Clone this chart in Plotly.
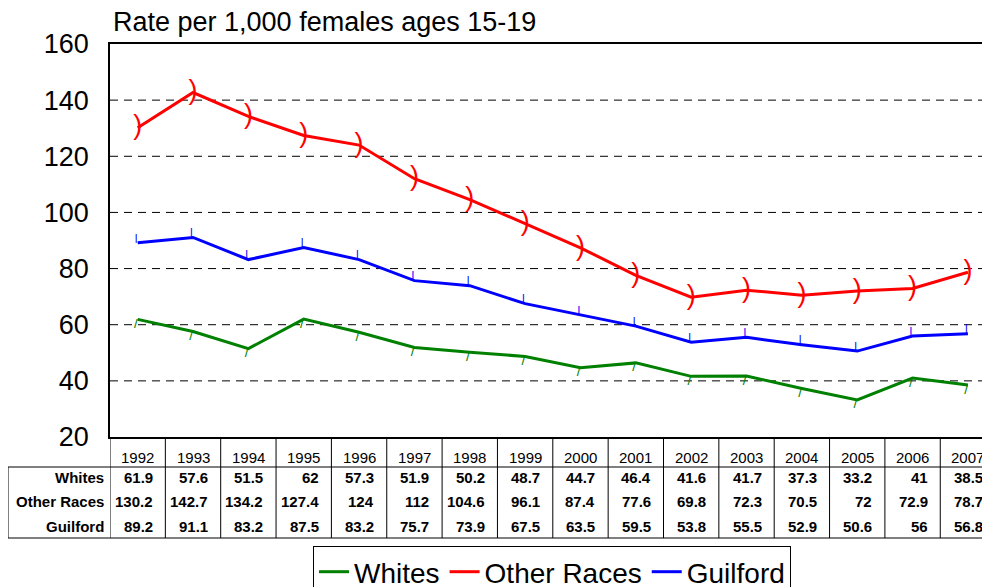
import plotly.graph_objects as go

years = [1992, 1993, 1994, 1995, 1996, 1997, 1998, 1999, 2000, 2001, 2002, 2003, 2004, 2005, 2006, 2007]
whites = [61.9, 57.6, 51.5, 62, 57.3, 51.9, 50.2, 48.7, 44.7, 46.4, 41.6, 41.7, 37.3, 33.2, 41, 38.5]
other_races = [130.2, 142.7, 134.2, 127.4, 124, 112, 104.6, 96.1, 87.4, 77.6, 69.8, 72.3, 70.5, 72, 72.9, 78.7]
guilford = [89.2, 91.1, 83.2, 87.5, 83.2, 75.7, 73.9, 67.5, 63.5, 59.5, 53.8, 55.5, 52.9, 50.6, 56, 56.8]
series_names = ["Whites", "Other Races", "Guilford"]
colors = ["#008000", "#FF0000", "#0000FF"]
gridvals = [40, 60, 80, 100, 120, 140]
title_text = "Rate per 1,000 females ages 15-19"

FONT = "Liberation Sans, Arial, sans-serif"
OFF = 8  # page body margin
W, H = 990, 587
L, R, T = 110 - OFF, OFF, 44 - OFF
PH = 437 - 44
B = H - T - PH
PW = W - L - R
CAT_PX = 55.35  # pixel width of one year column
X_MAX = years[0] - 0.5 + PW / CAT_PX

def py(pix):
    return (T + PH - (pix - OFF)) / PH

def px(pix):
    return (pix - OFF - L) / PW

fig = go.Figure()

data = [whites, other_races, guilford]
for name, vals, col in zip(series_names, data, colors):
    fig.add_trace(go.Scatter(x=years, y=vals, mode="lines", name=name,
                             line=dict(color=col, width=3)))

# marker glyphs
fig.add_trace(go.Scatter(x=years, y=other_races, mode="text", text=[")"] * len(years),
                         textposition="middle center", showlegend=False, hoverinfo="skip",
                         textfont=dict(family=FONT, size=27, color="#FF0000")))
fig.add_trace(go.Scatter(x=years, y=guilford, mode="text", text=["|"] * len(years),
                         textposition="top left", showlegend=False, hoverinfo="skip",
                         textfont=dict(family="DejaVu Sans", size=9, color="#0000FF", weight="bold")))
fig.add_trace(go.Scatter(x=years, y=whites, mode="text", text=["/"] * len(years),
                         textposition="bottom left", showlegend=False, hoverinfo="skip",
                         textfont=dict(family="DejaVu Sans", size=10, color="#008000", weight="bold")))

shapes = []
for g in gridvals:
    shapes.append(dict(type="line", xref="paper", yref="y", x0=0, x1=1, y0=g, y1=g,
                       line=dict(color="black", width=1, dash="8px,6px"), layer="below"))

# table lines
bottom = py(538)
toprow = py(467)
for k in range(len(years)):
    xv = years[0] - 0.5 + k
    shapes.append(dict(type="line", xref="x", yref="paper", x0=xv, x1=xv, y0=0, y1=bottom,
                       line=dict(color="black", width=1)))
shapes.append(dict(type="line", xref="paper", yref="paper", x0=px(8), x1=px(8), y0=toprow, y1=bottom,
                   line=dict(color="black", width=1)))
shapes.append(dict(type="line", xref="paper", yref="paper", x0=px(8), x1=1, y0=toprow, y1=toprow,
                   line=dict(color="black", width=1)))
shapes.append(dict(type="line", xref="paper", yref="paper", x0=px(8), x1=1, y0=bottom, y1=bottom,
                   line=dict(color="black", width=1)))

ann = []
ann.append(dict(text=title_text, xref="paper", yref="paper", x=px(111), y=py(22), xanchor="left",
                yanchor="middle", showarrow=False, font=dict(family=FONT, size=27, color="black")))
for yr in years:
    ann.append(dict(text=str(yr), xref="x", yref="paper", x=yr, y=py(457), xanchor="center",
                    yanchor="middle", showarrow=False, font=dict(family=FONT, size=15, color="black")))
row_y = [477, 501, 526]
for name, vals, ry in zip(series_names, data, row_y):
    ann.append(dict(text="<b>%s</b>" % name, xref="paper", yref="paper", x=px(106), y=py(ry),
                    xanchor="right", yanchor="middle", showarrow=False,
                    font=dict(family=FONT, size=15, color="black")))
    for yr, v in zip(years, vals):
        ann.append(dict(text="<b>%s</b>" % (("%g" % v)), xref="x", yref="paper", x=yr, y=py(ry),
                        xanchor="right", yanchor="middle", showarrow=False, xshift=17,
                        font=dict(family=FONT, size=15, color="black")))

fig.update_layout(
    width=W, height=H,
    margin=dict(l=L, r=R, t=T, b=B, autoexpand=False),
    plot_bgcolor="white", paper_bgcolor="white",
    showlegend=True,
    legend=dict(orientation="h", x=px(552), xanchor="center", y=py(546), yanchor="top",
                bordercolor="black", borderwidth=1, font=dict(family=FONT, size=28, color="black"),
                itemwidth=30, tracegroupgap=0, bgcolor="white"),
    xaxis=dict(range=[years[0] - 0.5, X_MAX], showticklabels=False, ticks="",
               showgrid=False, zeroline=False, showline=True, linecolor="black", linewidth=1.5,
               mirror=True),
    yaxis=dict(range=[20, 160], dtick=20, showgrid=False, zeroline=False, showline=True,
               linecolor="black", linewidth=1.5, mirror=False, ticks="outside", ticklen=14,
               tickcolor="white", tickfont=dict(family=FONT, size=27, color="black")),
    shapes=shapes, annotations=ann,
)

fig.write_html("out.html")
